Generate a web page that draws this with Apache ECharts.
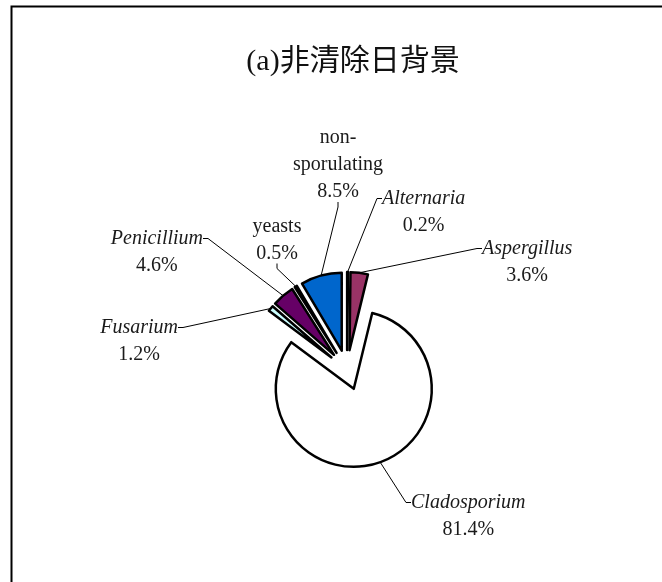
<!DOCTYPE html>
<html>
<head>
<meta charset="utf-8">
<script src="https://cdn.jsdelivr.net/npm/echarts@6/dist/echarts.min.js"></script>
<style>
  html, body { margin: 0; padding: 0; background: #fff; }
  #chart { width: 662px; height: 582px; }
</style>
</head>
<body>
<div id="chart"></div>
<script>
// Fungal composition, percent of total (clockwise from 12 o'clock)
const names = ['Alternaria', 'Aspergillus', 'Cladosporium', 'Fusarium', 'Penicillium', 'yeasts', 'non-\nsporulating'];
const shares = [0.2, 3.6, 81.4, 1.2, 4.6, 0.5, 8.5];
const italicNames = [true, true, true, true, true, false, false];
const colors = ['#000000', '#993366', '#ffffff', '#ccffff', '#660066', '#ffffff', '#0066cc'];

// Label placement: which side of the text block the leader line meets,
// and the reference point of the block (left/right: edge x and text top y; center: middle)
const labelSide = ['left', 'left', 'left', 'right', 'right', 'center', 'center'];
const labelPos = [[382, 185], [482, 235], [411, 489], [178, 314], [203, 225], [277, 240], [338, 165]];
// blank space above/below the text, lifting the leader line toward the top corner
const spaceAbove = [27, 114, 114, 114, 114, 0, 0];
const spaceBelow = [0, 60, 60, 60, 60, 0, 0];

const pieCenter = [347, 370];
const pieRadius = 78;
const explode = 20;
const LINE_H = 27;

const chart = echarts.init(document.getElementById('chart'));

const labelFont = { fontFamily: 'Liberation Serif', fontSize: 20, color: '#1a1a1a', lineHeight: LINE_H };

// exploded slices
const sliceData = names.map((n, i) => ({
  name: n,
  value: shares[i],
  selected: true,
  itemStyle: { color: colors[i] }
}));

// label carrier: same angles, radius reaching the exploded outer arcs
const labelData = names.map((n, i) => {
  let text = (italicNames[i] ? '{i|' : '{r|') + n + '}\n{r|' + shares[i].toFixed(1) + '%}';
  const rich = {};
  if (spaceAbove[i]) {
    text = '{sa| }\n' + text;
    rich.sa = Object.assign({}, labelFont, { lineHeight: spaceAbove[i] });
  }
  if (spaceBelow[i]) {
    text = text + '\n{sb| }';
    rich.sb = Object.assign({}, labelFont, { lineHeight: spaceBelow[i] });
  }
  return { name: n, value: shares[i], label: { formatter: text, rich: rich } };
});

chart.setOption({
  animation: false,
  graphic: [
    {
      type: 'rect', left: 9, top: 4,
      shape: { width: 700, height: 700 },
      style: { fill: 'none', stroke: '#000', lineWidth: 2 },
      silent: true
    },
    {
      type: 'text', x: 353, y: 62,
      style: {
        text: '(a)非清除日背景',
        fontFamily: '"Liberation Serif", "Noto Sans CJK TC"',
        fontSize: 30, fill: '#111',
        align: 'center', verticalAlign: 'middle'
      },
      silent: true
    }
  ],
  series: [
    {
      type: 'pie',
      name: 'slices',
      center: pieCenter,
      radius: pieRadius,
      startAngle: 90,
      clockwise: true,
      selectedMode: 'multiple',
      selectedOffset: explode,
      silent: true,
      itemStyle: { borderColor: '#000', borderWidth: 2.5 },
      emphasis: { disabled: true },
      label: { show: false },
      labelLine: { show: false },
      data: sliceData
    },
    {
      type: 'pie',
      name: 'labels',
      center: pieCenter,
      radius: pieRadius + explode,
      startAngle: 90,
      clockwise: true,
      silent: true,
      avoidLabelOverlap: false,
      itemStyle: { color: 'rgba(0,0,0,0)', borderWidth: 0 },
      emphasis: { disabled: true },
      label: {
        show: true,
        position: 'outside',
        rich: {
          i: Object.assign({}, labelFont, { fontStyle: 'italic', align: 'center' }),
          r: Object.assign({}, labelFont, { align: 'center' })
        }
      },
      labelLine: {
        show: true, length: 20, length2: 5, smooth: false,
        lineStyle: { color: '#000', width: 1 }
      },
      labelLayout: function (p) {
        const i = p.dataIndex;
        const c = labelPos[i];
        const side = labelSide[i];
        if (side === 'center') {
          return { x: c[0], y: c[1], align: 'center', verticalAlign: 'middle' };
        }
        // keep the text top at c[1] whatever blank space is added around it
        const blockH = spaceAbove[i] + 2 * LINE_H + spaceBelow[i];
        return { x: c[0], y: c[1] - spaceAbove[i] + blockH / 2, align: side, verticalAlign: 'middle' };
      },
      data: labelData
    }
  ]
});
</script>
</body>
</html>
